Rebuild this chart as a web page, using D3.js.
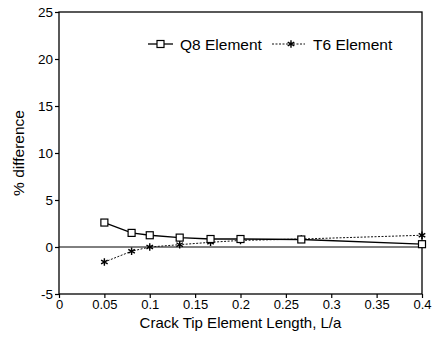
<!DOCTYPE html>
<html>
<head>
<meta charset="utf-8">
<script src="https://cdn.jsdelivr.net/npm/d3@7"></script>
<style>
  body { margin: 0; background: #fff; }
  text { font-family: "Liberation Sans", Arial, Helvetica, sans-serif; fill: #000; }
</style>
</head>
<body>
<div id="chart"></div>
<script>
// -------- Data --------
const lengths   = [0.05, 0.08, 0.1, 0.133, 0.167, 0.2, 0.267, 0.4];
const q8Values  = [2.6, 1.5, 1.25, 1.0, 0.85, 0.85, 0.8, 0.3];
const t6Values  = [-1.6, -0.45, 0.0, 0.25, 0.5, 0.7, 0.85, 1.25];
const xTicks      = [0, 0.05, 0.1, 0.15, 0.2, 0.25, 0.3, 0.35, 0.4];
const xTickLabels = ['0', '0.05', '0.1', '0.15', '0.2', '0.25', '0.3', '0.35', '0.4'];
const yTicks      = [-5, 0, 5, 10, 15, 20, 25];
const yTickLabels = ['-5', '0', '5', '10', '15', '20', '25'];
const seriesNames = ['Q8 Element', 'T6 Element'];

// -------- Dimensions --------
const width = 435, height = 337;
const m = { top: 12, right: 13, bottom: 43, left: 59 };
const w = width - m.left - m.right;
const h = height - m.top - m.bottom;

const svg = d3.select('#chart').append('svg')
  .attr('width', width)
  .attr('height', height);

const g = svg.append('g').attr('transform', `translate(${m.left},${m.top})`);

// -------- Scales --------
const x = d3.scaleLinear().domain([0, 0.4]).range([0, w]);
const y = d3.scaleLinear().domain([-5, 25]).range([h, 0]);

// -------- Axes --------
const xAxis = d3.axisBottom(x)
  .tickValues(xTicks)
  .tickSize(4)
  .tickPadding(2)
  .tickFormat((d, i) => xTickLabels[i]);

const yAxis = d3.axisLeft(y)
  .tickValues(yTicks)
  .tickSize(4)
  .tickPadding(2)
  .tickFormat((d, i) => yTickLabels[i]);

g.append('g')
  .attr('transform', `translate(0,${h})`)
  .call(xAxis)
  .call(a => a.select('.domain').remove())
  .call(a => a.selectAll('text').style('font-size', '13px').attr('fill', '#000'));

g.append('g')
  .call(yAxis)
  .call(a => a.select('.domain').remove())
  .call(a => a.selectAll('text').style('font-size', '13.5px').attr('fill', '#000'));

g.selectAll('.tick line').attr('stroke', '#000').attr('stroke-width', 1.2);

// frame
g.append('rect')
  .attr('width', w)
  .attr('height', h)
  .attr('fill', 'none')
  .attr('stroke', '#000')
  .attr('stroke-width', 1.3);

// zero line
g.append('line')
  .attr('x1', 0).attr('x2', w)
  .attr('y1', y(0)).attr('y2', y(0))
  .attr('stroke', '#000')
  .attr('stroke-width', 1);

// -------- Axis titles --------
svg.append('text')
  .attr('x', m.left + w / 2)
  .attr('y', 328)
  .attr('text-anchor', 'middle')
  .style('font-size', '15px')
  .text('Crack Tip Element Length, L/a');

svg.append('text')
  .attr('transform', `translate(24,${m.top + y(10)}) rotate(-90)`)
  .attr('text-anchor', 'middle')
  .style('font-size', '15.5px')
  .text('% difference');

// -------- Series --------
const q8 = lengths.map((d, i) => [d, q8Values[i]]);
const t6 = lengths.map((d, i) => [d, t6Values[i]]);

const line = d3.line().x(d => x(d[0])).y(d => y(d[1]));

g.append('path')
  .datum(t6)
  .attr('d', line)
  .attr('fill', 'none')
  .attr('stroke', '#111')
  .attr('stroke-width', 1)
  .attr('stroke-dasharray', '2,1.5');

g.append('path')
  .datum(q8)
  .attr('d', line)
  .attr('fill', 'none')
  .attr('stroke', '#000')
  .attr('stroke-width', 1.3);

const star = d3.symbol().type(d3.symbolAsterisk).size(40);

g.selectAll('path.t6')
  .data(t6)
  .join('path')
    .attr('class', 't6')
    .attr('transform', d => `translate(${x(d[0])},${y(d[1])})`)
    .attr('d', star)
    .attr('fill', 'none')
    .attr('stroke', '#000')
    .attr('stroke-width', 1.4);

g.selectAll('rect.q8')
  .data(q8)
  .join('rect')
    .attr('class', 'q8')
    .attr('x', d => x(d[0]) - 3.5)
    .attr('y', d => y(d[1]) - 3.5)
    .attr('width', 7)
    .attr('height', 7)
    .attr('fill', '#fff')
    .attr('stroke', '#000')
    .attr('stroke-width', 1.2);

// -------- Legend --------
const legend = svg.append('g').attr('transform', 'translate(148,44)');

legend.append('line')
  .attr('x1', 0).attr('x2', 25)
  .attr('stroke', '#000').attr('stroke-width', 1.3);
legend.append('rect')
  .attr('x', 9).attr('y', -3.5).attr('width', 7).attr('height', 7)
  .attr('fill', '#fff').attr('stroke', '#000').attr('stroke-width', 1.2);
legend.append('text')
  .attr('x', 32).attr('y', 5.5)
  .style('font-size', '15.5px')
  .text(seriesNames[0]);

legend.append('line')
  .attr('x1', 124).attr('x2', 157)
  .attr('stroke', '#111').attr('stroke-width', 1)
  .attr('stroke-dasharray', '2,1.5');
legend.append('path')
  .attr('transform', 'translate(143,0)')
  .attr('d', star)
  .attr('fill', 'none').attr('stroke', '#000').attr('stroke-width', 1.4);
legend.append('text')
  .attr('x', 165).attr('y', 5.5)
  .style('font-size', '15.5px')
  .text(seriesNames[1]);
</script>
</body>
</html>
